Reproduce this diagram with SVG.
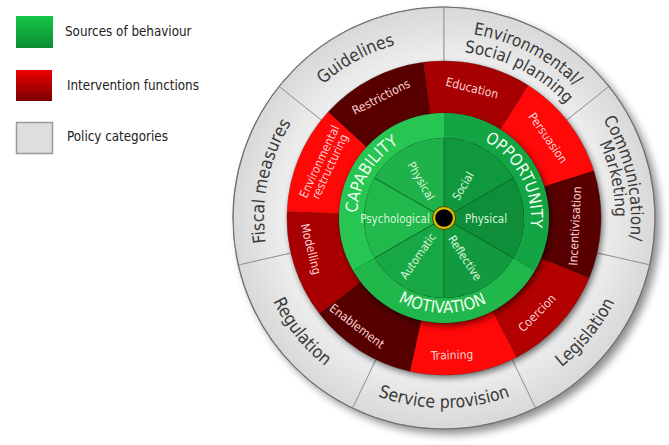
<svg xmlns="http://www.w3.org/2000/svg" width="669" height="445" viewBox="0 0 669 445">
<defs>
<style>
text{font-family:"DejaVu Sans Condensed","DejaVu Sans",sans-serif;font-stretch:condensed}
.leg{font-size:13.3px;fill:#222}
.pol{fill:url(#gGray);stroke:#9a9a9a;stroke-width:1}
.pt{font-size:17.5px;fill:#3a3a3a}
.pt2{font-size:17px;fill:#3a3a3a}
.it{font-size:12px;fill:#fbd2d2;text-anchor:middle}
.st{font-size:16.5px;fill:#eefff0}
.sub{font-size:11.5px;fill:#daf5da;text-anchor:middle}
.div{stroke:#0b6e2b;stroke-width:1}
</style>
<linearGradient id="lgG" x1="0" y1="0" x2="0" y2="1"><stop offset="0" stop-color="#14c646"/><stop offset="1" stop-color="#0b8c33"/></linearGradient>
<linearGradient id="lgR" x1="0" y1="0" x2="0" y2="1"><stop offset="0" stop-color="#f00000"/><stop offset="1" stop-color="#780000"/></linearGradient>
<radialGradient id="gGray" gradientUnits="userSpaceOnUse" cx="444" cy="218" r="211"><stop offset="0.74" stop-color="#efefef"/><stop offset="1" stop-color="#d8d8d8"/></radialGradient>
<filter id="blur4" x="-20%" y="-20%" width="140%" height="140%"><feGaussianBlur stdDeviation="4"/></filter>
<filter id="blur3" x="-20%" y="-20%" width="140%" height="140%"><feGaussianBlur stdDeviation="3"/></filter>
<path id="pGuid" d="M264.03,214.86 A180,180 0 0 1 536.70,63.71"/>
<path id="pEnv1" d="M342.70,61.99 A186,186 0 0 1 629.74,208.27"/>
<path id="pEnv2" d="M353.06,77.94 A167,167 0 0 1 610.77,209.26"/>
<path id="pCom1" d="M500.23,39.66 A187,187 0 0 1 570.34,355.88"/>
<path id="pCom2" d="M494.52,53.96 A168,168 0 0 1 557.50,341.86"/>
<path id="pFis" d="M323.56,351.76 A180,180 0 0 1 388.38,46.80"/>
<path id="pLeg" d="M414.28,405.66 A190,190 0 0 0 621.38,149.90"/>
<path id="pSer" d="M279.46,313 A190,190 0 0 0 608.54,313"/>
<path id="pReg" d="M267.09,148.67 A190,190 0 0 0 472.41,405.87"/>
<path id="pCap" d="M367.91,260.18 A87,87 0 0 1 445.52,131.01"/>
<path id="pOpp" d="M447.04,131.05 A87,87 0 0 1 517.78,264.10"/>
<path id="pMot" d="M360.91,264.06 A95,95 0 0 0 525.43,266.93"/>
</defs>

<rect width="669" height="445" fill="#ffffff"/>

<g id="legend">
<g id="legend-sources"><rect x="16" y="16" width="37" height="32" fill="url(#lgG)"/><text class="leg" x="65" y="36">Sources of behaviour</text></g>
<g id="legend-interventions"><rect x="16" y="70" width="36" height="31" fill="url(#lgR)"/><text class="leg" x="67" y="90">Intervention functions</text></g>
<g id="legend-policy"><rect x="16.5" y="122.5" width="36" height="31" fill="#dedede" stroke="#9a9a9a" stroke-width="1.5"/><text class="leg" x="67" y="141">Policy categories</text></g>
</g>

<circle cx="449" cy="223" r="211" fill="#000" opacity="0.45" filter="url(#blur4)"/>

<g id="policy-ring">
<g id="guidelines"><path class="pol" d="M279.04,86.44 A211,211 0 0 1 444,7 L444,61 A157,157 0 0 0 321.26,120.11 Z"/><text class="pt"><textPath href="#pGuid" startOffset="50%" text-anchor="middle">Guidelines</textPath></text></g>
<g id="env-social-planning"><path class="pol" d="M444,7 A211,211 0 0 1 608.96,86.44 L566.74,120.11 A157,157 0 0 0 444,61 Z"/><text class="pt2"><textPath href="#pEnv1" startOffset="50%" text-anchor="middle">Environmental/</textPath></text><text class="pt2"><textPath href="#pEnv2" startOffset="50%" text-anchor="middle">Social planning</textPath></text></g>
<g id="communication-marketing"><path class="pol" d="M608.96,86.44 A211,211 0 0 1 649.70,264.95 L597.06,252.93 A157,157 0 0 0 566.74,120.11 Z"/><text class="pt2"><textPath href="#pCom1" startOffset="50%" text-anchor="middle">Communication/</textPath></text><text class="pt2"><textPath href="#pCom2" startOffset="50%" text-anchor="middle">Marketing</textPath></text></g>
<g id="legislation"><path class="pol" d="M649.70,264.95 A211,211 0 0 1 535.55,408.11 L512.12,359.46 A157,157 0 0 0 597.06,252.93 Z"/><text class="pt"><textPath href="#pLeg" startOffset="50%" text-anchor="middle">Legislation</textPath></text></g>
<g id="service-provision"><path class="pol" d="M535.55,408.11 A211,211 0 0 1 352.45,408.11 L375.88,359.46 A157,157 0 0 0 512.12,359.46 Z"/><text class="pt"><textPath href="#pSer" startOffset="50%" text-anchor="middle">Service provision</textPath></text></g>
<g id="regulation"><path class="pol" d="M352.45,408.11 A211,211 0 0 1 238.30,264.95 L290.94,252.93 A157,157 0 0 0 375.88,359.46 Z"/><text class="pt"><textPath href="#pReg" startOffset="50%" text-anchor="middle">Regulation</textPath></text></g>
<g id="fiscal-measures"><path class="pol" d="M238.30,264.95 A211,211 0 0 1 279.04,86.44 L321.26,120.11 A157,157 0 0 0 290.94,252.93 Z"/><text class="pt"><textPath href="#pFis" startOffset="50%" text-anchor="middle">Fiscal measures</textPath></text></g>
<circle cx="444" cy="218" r="211" fill="none" stroke="#707070" stroke-width="1.2"/>
</g>

<circle cx="446" cy="221" r="157" fill="#000" opacity="0.55" filter="url(#blur3)"/>

<g id="intervention-ring">
<g id="education"><path fill="#a60000" d="M423.51,62.35 A157,157 0 0 1 528.36,85.59 L500.42,129.44 A105,105 0 0 0 430.30,113.90 Z"/><text class="it" transform="translate(472,88) rotate(14)" dy="0.35em">Education</text></g>
<g id="persuasion"><path fill="#ff0808" d="M528.36,85.59 A157,157 0 0 1 593.73,170.79 L544.14,186.43 A105,105 0 0 0 500.42,129.44 Z"/><text class="it" transform="translate(548,138) rotate(55)" dy="0.35em">Persuasion</text></g>
<g id="incentivisation"><path fill="#580000" d="M593.73,170.79 A157,157 0 0 1 589.05,278.08 L541.01,258.18 A105,105 0 0 0 544.14,186.43 Z"/><text class="it" transform="translate(575,226) rotate(-87)" dy="0.35em">Incentivisation</text></g>
<g id="coercion"><path fill="#b30000" d="M589.05,278.08 A157,157 0 0 1 516.49,357.26 L492.48,311.14 A105,105 0 0 0 541.01,258.18 Z"/><text class="it" transform="translate(537,313) rotate(-45)" dy="0.35em">Coercion</text></g>
<g id="training"><path fill="#ff0808" d="M516.49,357.26 A157,157 0 0 1 410.03,371.28 L421.28,320.51 A105,105 0 0 0 492.48,311.14 Z"/><text class="it" transform="translate(452,355) rotate(-2)" dy="0.35em">Training</text></g>
<g id="enablement"><path fill="#560000" d="M410.03,371.28 A157,157 0 0 1 319.44,313.58 L360.69,281.92 A105,105 0 0 0 421.28,320.51 Z"/><text class="it" transform="translate(357,326) rotate(37)" dy="0.35em">Enablement</text></g>
<g id="modelling"><path fill="#a80000" d="M319.44,313.58 A157,157 0 0 1 287.16,211.15 L339.10,213.42 A105,105 0 0 0 360.69,281.92 Z"/><text class="it" transform="translate(311,249) rotate(76)" dy="0.35em">Modelling</text></g>
<g id="environmental-restructuring"><path fill="#ff0808" d="M287.16,211.15 A157,157 0 0 1 328.24,111.93 L366.58,147.06 A105,105 0 0 0 339.10,213.42 Z"/><g transform="translate(324.5,164) rotate(-65)"><text class="it" y="-1.5">Environmental</text><text class="it" y="10">restructuring</text></g></g>
<g id="restrictions"><path fill="#580000" d="M328.24,111.93 A157,157 0 0 1 423.51,62.35 L430.30,113.90 A105,105 0 0 0 366.58,147.06 Z"/><text class="it" transform="translate(381,97) rotate(-27)" dy="0.35em">Restrictions</text></g>
</g>

<circle cx="446" cy="221" r="105" fill="#000" opacity="0.55" filter="url(#blur3)"/>

<g id="sources">
<g id="capability"><path fill="#27c552" d="M353.07,270.5 A105,105 0 0 1 444,113 L444,138 A80,80 0 0 0 374.72,258 Z"/><text class="st"><textPath href="#pCap" startOffset="50%" text-anchor="middle">CAPABILITY</textPath></text></g>
<g id="opportunity"><path fill="#13a443" d="M444,113 A105,105 0 0 1 534.93,270.5 L513.28,258 A80,80 0 0 0 444,138 Z"/><text class="st"><textPath href="#pOpp" startOffset="50%" text-anchor="middle">OPPORTUNITY</textPath></text></g>
<g id="motivation"><path fill="#20b84b" d="M534.93,270.5 A105,105 0 0 1 353.07,270.5 L374.72,258 A80,80 0 0 0 513.28,258 Z"/><text class="st"><textPath href="#pMot" startOffset="50%" text-anchor="middle">MOTIVATION</textPath></text></g>
<g id="physical-capability"><path fill="#1fb24a" d="M444,218 L374.72,178 A80,80 0 0 1 444,138 Z"/><text class="sub" transform="translate(421,181) rotate(60)" dy="0.35em">Physical</text></g>
<g id="psychological-capability"><path fill="#21b84c" d="M444,218 L374.72,258 A80,80 0 0 1 374.72,178 Z"/><text class="sub" x="395" y="223">Psychological</text></g>
<g id="automatic-motivation"><path fill="#18a745" d="M444,218 L444,298 A80,80 0 0 1 374.72,258 Z"/><text class="sub" transform="translate(418,256) rotate(-55)" dy="0.35em">Automatic</text></g>
<g id="reflective-motivation"><path fill="#129a3e" d="M444,218 L513.28,258 A80,80 0 0 1 444,298 Z"/><text class="sub" transform="translate(465,258) rotate(57)" dy="0.35em">Reflective</text></g>
<g id="physical-opportunity"><path fill="#0e8e38" d="M444,218 L513.28,178 A80,80 0 0 1 513.28,258 Z"/><text class="sub" x="486" y="223">Physical</text></g>
<g id="social-opportunity"><path fill="#0f993c" d="M444,218 L444,138 A80,80 0 0 1 513.28,178 Z"/><text class="sub" transform="translate(463,186) rotate(-60)" dy="0.35em">Social</text></g>
</g>

<g id="connectors">
<line class="div" x1="444" y1="218" x2="444" y2="138"/>
<line class="div" x1="444" y1="218" x2="513.28" y2="178"/>
<line class="div" x1="444" y1="218" x2="513.28" y2="258"/>
<line class="div" x1="444" y1="218" x2="444" y2="298"/>
<line class="div" x1="444" y1="218" x2="374.72" y2="258"/>
<line class="div" x1="444" y1="218" x2="374.72" y2="178"/>
</g>

<g id="hub">
<circle cx="444" cy="218" r="11.5" fill="#d8c400" stroke="#4a4200" stroke-width="1"/>
<circle cx="444" cy="218" r="8.8" fill="#000"/>
</g>
</svg>
